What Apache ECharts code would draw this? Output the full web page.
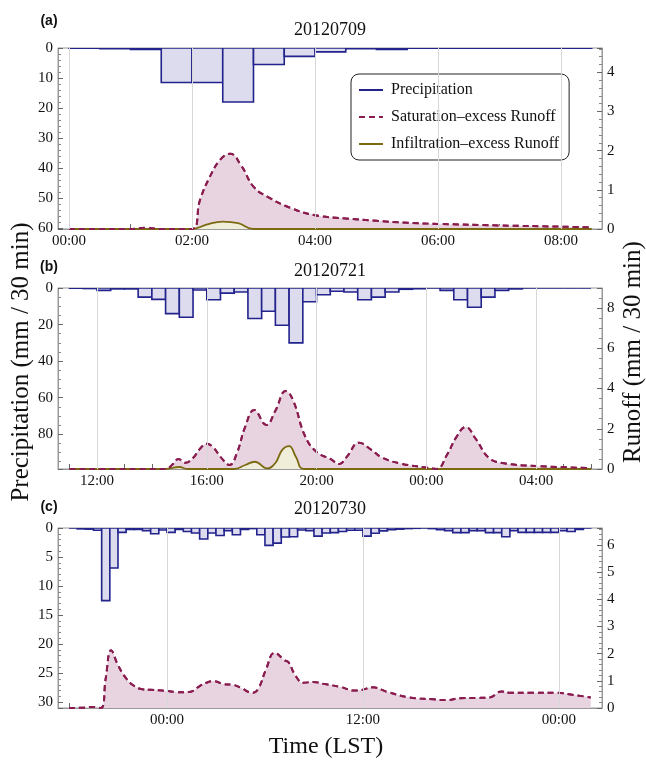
<!DOCTYPE html>
<html>
<head>
<meta charset="utf-8">
<title>Precipitation and runoff events</title>
<script src="https://cdn.jsdelivr.net/npm/echarts@6.0.0/dist/echarts.min.js"></script>
<style>
  html, body { margin: 0; padding: 0; background: #fff; }
  #chart { width: 646px; height: 761px; }
</style>
</head>
<body>
<div id="chart"></div>
<script>
// ---- data (hours since 00:00 of the event day, 30-min bars) ----
// (a) 20120709
const precipStartA = 0;
const precipA = [0.1, 0.2, 0.5, 11.5, 11.5, 18, 5.5, 2.8, 1.3, 0.2, 0.5, 0.05, 0.05, 0.05, 0.05, 0.05, 0.05];
const satTimeA = [0, 0.5, 1.0, 1.25, 1.5, 2.0, 2.13, 2.29, 2.46, 2.62, 2.8, 3.0, 3.23, 3.6, 4.0, 4.5, 5.0, 5.5, 6.0, 7.0, 8.0, 8.5];
const satA = [0, 0, 0, 0.03, 0, 0, 0.74, 1.33, 1.77, 1.92, 1.62, 1.08, 0.82, 0.54, 0.35, 0.27, 0.21, 0.16, 0.13, 0.09, 0.06, 0.04];
const infTimeA = [0, 2.0, 2.25, 2.5, 2.75, 3.0, 8.5];
const infA = [0, 0, 0.12, 0.19, 0.15, 0, 0];
const labelTimesA = [0, 2, 4, 6, 8];
const tickTimesA = [0, 1, 2, 3, 4, 5, 6, 7, 8];

// (b) 20120721
const precipStartB = 11;
const precipB = [0.1, 0.3, 1.3, 0.5, 0.5, 5, 6.2, 14, 16, 1.1, 6.4, 2.8, 2.2, 16.7, 12.7, 20.4, 30, 7.5,
  3.7, 1.8, 2.2, 6.4, 5, 2.2, 0.7, 0.4, 0, 1.3, 6.4, 10.5, 5, 1.3, 0.5, 0, 0, 0, 0, 0];
const satTimeB = [11, 14.5, 14.75, 14.97, 15.22, 15.5, 15.75, 16.0, 16.25, 16.5, 16.83, 17.1, 17.4, 17.73,
  18.17, 18.5, 18.88, 19.15, 19.58, 20.0, 20.5, 20.83, 21.1, 21.55, 22.0, 22.4, 23.1, 24.0, 24.37,
  24.75, 25.1, 25.43, 25.8, 26.27, 26.77, 28.0, 30.0];
const satB = [0, 0, 0.22, 0.5, 0.31, 0.55, 1.0, 1.26, 1.05, 0.6, 0.2, 0.8, 2.1, 2.93, 2.19, 2.9, 3.88, 3.4,
  1.64, 0.85, 0.5, 0.25, 0.6, 1.31, 0.95, 0.56, 0.26, 0.07, 0, 0.7, 1.6, 2.09, 1.5, 0.56, 0.3, 0.15, 0.05];
const infTimeB = [11, 14.5, 15.0, 15.3, 17.0, 17.4, 17.75, 18.2, 18.5, 18.75, 19.0, 19.25, 19.55, 30];
const infB = [0, 0, 0.1, 0, 0, 0.2, 0.36, 0.03, 0.3, 0.95, 1.14, 0.6, 0, 0];
const labelTimesB = [12, 16, 20, 24, 28];
const tickTimesB = [11, 12, 13, 14, 15, 16, 17, 18, 19, 20, 21, 22, 23, 24, 25, 26, 27, 28, 29, 30];

// (c) 20120730
const precipStartC = -6;
const precipC = [0, 0.15, 0.2, 0.4, 12.5, 6.9, 0.75, 0.25, 0.25, 0.45, 1.0, 0.35,
  0.75, 0.25, 0.6, 0.85, 1.9, 0.85, 1.3, 0.45, 1.15, 0.25, 0.1, 1.15,
  3.0, 2.6, 1.55, 1.5, 0.35, 0.45, 1.4, 0.85, 0.8, 0.6, 0.4, 0.4,
  1.4, 0.9, 0.5, 0.3, 0.2, 0.1, 0.05, 0, 0.1, 0.3, 0.45, 0.8,
  0.8, 0.45, 0.45, 0.8, 0.8, 1.5, 0.45, 0.75, 0.75, 0.75, 0.75, 0.75,
  0.45, 0.6, 0.25, 0];
const satTimeC = [-6, -5.2, -4.6, -4.05, -3.75, -3.42, -3.0, -2.5, -2.0, -1.5, -1.0, -0.5, 0, 0.5, 1.0,
  1.5, 2.0, 2.5, 2.85, 3.5, 4.0, 4.5, 5.25, 5.6, 6.05, 6.6, 7.2, 7.45, 7.85, 8.35, 8.95, 9.65, 10.6,
  11.5, 11.9, 12.6, 13.45, 14.85, 16.3, 17.1, 17.95, 18.95, 19.75, 20.5, 21.0, 22.4, 23.9, 24.9, 25.95];
const satC = [0, 0.01, 0.04, 0, 1.1, 2.13, 1.58, 1.09, 0.81, 0.69, 0.67, 0.65, 0.63, 0.59, 0.58,
  0.61, 0.81, 0.95, 0.99, 0.88, 0.86, 0.75, 0.56, 0.72, 1.4, 2.03, 1.76, 1.68, 1.21, 0.93, 0.96, 0.88, 0.78,
  0.64, 0.66, 0.76, 0.6, 0.39, 0.32, 0.29, 0.36, 0.37, 0.39, 0.61, 0.56, 0.56, 0.56, 0.48, 0.39];
const labelTimesC = [0, 12, 24];
const tickTimesC = [-6, -3, 0, 3, 6, 9, 12, 15, 18, 21, 24];

const legendNames = ['Precipitation', 'Saturation–excess Runoff', 'Infiltration–excess Runoff'];

// ---- styles ----
const SERIF = '"Liberation Serif", "DejaVu Serif", serif';
const SANS = '"Liberation Sans", Arial, sans-serif';
const NAVY = '#22238c';
const BAR_FILL = '#dcdcee';
const SAT_LINE = '#8a1c50';
const SAT_FILL = '#e8d4e0';
const INF_LINE = '#7c6a12';
const INF_FILL = '#f0eed9';
const FRAME = '#999';
const SMOOTH = 0.45;

const pad = (n) => (n < 10 ? '0' : '') + n;
const isStep = (v, step) => Math.abs(v / step - Math.round(v / step)) < 1e-6;

const timeLabel = (v) => pad(((Math.round(v) % 24) + 24) % 24) + ':00';
const numLabel = (step) => (v) => (isStep(v, step) ? String(Math.round(v)) : '');

const panels = [
  { top: 48, height: 181, xMin: -0.179, xMax: 8.667, labels: labelTimesA, ticks: tickTimesA,
    pMax: 60.3, pStep: 10, pMinor: 5, rMax: 4.62, rStep: 1, rMinor: 5,
    start: precipStartA, precip: precipA, satT: satTimeA, sat: satA, infT: infTimeA, inf: infA },
  { top: 288, height: 181, xMin: 10.58, xMax: 30.4, labels: labelTimesB, ticks: tickTimesB,
    pMax: 99, pStep: 20, pMinor: 4, rMax: 9, rStep: 2, rMinor: 4,
    start: precipStartB, precip: precipB, satT: satTimeB, sat: satB, infT: infTimeB, inf: infB },
  { top: 528, height: 180, xMin: -6.674, xMax: 26.64, labels: labelTimesC, ticks: tickTimesC,
    pMax: 31, pStep: 5, pMinor: 5, rMax: 6.63, rStep: 1, rMinor: 5,
    start: precipStartC, precip: precipC, satT: satTimeC, sat: satC, infT: null, inf: null }
];

const grids = [];
const xAxes = [];
const yAxes = [];
const series = [];

const axisCommon = {
  axisLine: { show: true, onZero: false, lineStyle: { color: FRAME, width: 1 } },
  axisTick: { show: true, inside: true, length: 5, lineStyle: { color: '#666' } },
  minorTick: { show: true, length: 3, lineStyle: { color: '#888' } },
  axisLabel: { color: '#111', fontFamily: SERIF, fontSize: 15, margin: 5 }
};

const pairs = (ts, vs) => ts.map((t, i) => [t, vs[i]]);

panels.forEach((p, i) => {
  grids.push({ left: 58, width: 544, top: p.top, height: p.height, show: true,
    borderColor: FRAME, borderWidth: 1, outerBoundsMode: 'none' });

  xAxes.push({
    type: 'value', gridIndex: i, position: 'bottom', min: p.xMin, max: p.xMax,
    ...axisCommon,
    axisTick: { ...axisCommon.axisTick, customValues: p.ticks },
    minorTick: { show: false },
    axisLabel: { ...axisCommon.axisLabel, customValues: p.labels, formatter: timeLabel, margin: 5 },
    splitLine: { show: false }
  });

  yAxes.push({
    type: 'value', gridIndex: i, position: 'left', inverse: true, min: 0, max: p.pMax, interval: p.pStep,
    ...axisCommon,
    minorTick: { ...axisCommon.minorTick, splitNumber: p.pMinor },
    axisLabel: { ...axisCommon.axisLabel, formatter: numLabel(p.pStep) },
    splitLine: { show: false }
  });
  yAxes.push({
    type: 'value', gridIndex: i, position: 'right', min: 0, max: p.rMax, interval: p.rStep,
    ...axisCommon,
    minorTick: { ...axisCommon.minorTick, splitNumber: p.rMinor },
    axisLabel: { ...axisCommon.axisLabel, formatter: numLabel(p.rStep) },
    splitLine: { show: false }
  });

  // vertical grid lines at the labelled times
  series.push({
    type: 'line', name: 'grid-lines', xAxisIndex: i, yAxisIndex: i * 2 + 1, data: [], z: 1,
    markLine: {
      silent: true, symbol: 'none', label: { show: false },
      lineStyle: { color: '#d8d8d8', width: 1, type: 'solid' },
      data: p.labels.map((t) => ({ xAxis: t }))
    }
  });

  // precipitation bars hanging from the top
  series.push({
    type: 'custom', name: 'precip-bars', xAxisIndex: i, yAxisIndex: i * 2, clip: true, z: 3,
    data: p.precip.map((v, k) => [p.start + k * 0.5, v]),
    renderItem: (params, api) => {
      const t = api.value(0);
      const a = api.coord([t, 0]);
      const b = api.coord([t + 0.5, api.value(1)]);
      return {
        type: 'rect',
        shape: { x: a[0], y: a[1], width: b[0] - a[0], height: b[1] - a[1] },
        style: { fill: BAR_FILL, stroke: NAVY, lineWidth: 1.6 }
      };
    }
  });

  // saturation-excess runoff (area)
  series.push({
    type: 'line', name: legendNames[1], xAxisIndex: i, yAxisIndex: i * 2 + 1,
    data: pairs(p.satT, p.sat), smooth: SMOOTH, symbol: 'none', z: 2,
    lineStyle: { color: SAT_LINE, width: 2, type: [6, 4] },
    itemStyle: { color: SAT_LINE },
    areaStyle: { color: SAT_FILL, opacity: 1 }
  });

  if (p.inf) {
    series.push({
      type: 'line', name: legendNames[2], xAxisIndex: i, yAxisIndex: i * 2 + 1,
      data: pairs(p.infT, p.inf), smooth: SMOOTH, symbol: 'none', z: 3,
      lineStyle: { color: INF_LINE, width: 1.8 },
      itemStyle: { color: INF_LINE },
      areaStyle: { color: INF_FILL, opacity: 1 }
    });
  }

  // dashed saturation line redrawn on top of the infiltration area
  series.push({
    type: 'line', name: 'sat-line', xAxisIndex: i, yAxisIndex: i * 2 + 1,
    data: pairs(p.satT, p.sat), smooth: SMOOTH, symbol: 'none', z: 4,
    lineStyle: { color: SAT_LINE, width: 2, type: [6, 4] }
  });
});

// legend-only entry for precipitation
series.push({
  type: 'line', name: legendNames[0], xAxisIndex: 0, yAxisIndex: 0, data: [], symbol: 'none',
  lineStyle: { color: NAVY, width: 1.6 }, itemStyle: { color: NAVY }
});

const text = (x, y, str, extra) => ({
  type: 'text', x: x, y: y, silent: true,
  style: Object.assign({ text: str, fill: '#111', fontFamily: SERIF, fontSize: 18,
    align: 'center', verticalAlign: 'middle' }, extra || {})
});

const graphics = [
  text(49, 21, '(a)', { fontFamily: SANS, fontWeight: 'bold', fontSize: 14 }),
  text(49, 267, '(b)', { fontFamily: SANS, fontWeight: 'bold', fontSize: 14 }),
  text(49, 507, '(c)', { fontFamily: SANS, fontWeight: 'bold', fontSize: 14 }),
  text(330, 30, '20120709'),
  text(330, 271, '20120721'),
  text(330, 509, '20120730'),
  Object.assign(text(21, 362, 'Precipitation (mm / 30 min)', { fontSize: 25 }), { rotation: Math.PI / 2 }),
  Object.assign(text(633, 352, 'Runoff (mm / 30 min)', { fontSize: 25 }), { rotation: Math.PI / 2 }),
  text(326, 747, 'Time (LST)', { fontSize: 24 })
];

const chart = echarts.init(document.getElementById('chart'), null, { renderer: 'canvas' });
chart.setOption({
  animation: false,
  backgroundColor: '#fff',
  grid: grids,
  xAxis: xAxes,
  yAxis: yAxes,
  series: series,
  graphic: graphics,
  legend: {
    data: legendNames,
    orient: 'vertical',
    left: 351, top: 74,
    padding: [8, 10, 8, 7],
    itemGap: 11,
    itemWidth: 24, itemHeight: 14,
    selectedMode: false,
    backgroundColor: '#fff',
    borderColor: '#222', borderWidth: 1, borderRadius: 8,
    itemStyle: { opacity: 0 },
    textStyle: { fontFamily: SERIF, fontSize: 16, color: '#111', padding: [0, 0, 0, 3] }
  }
});
</script>
</body>
</html>
